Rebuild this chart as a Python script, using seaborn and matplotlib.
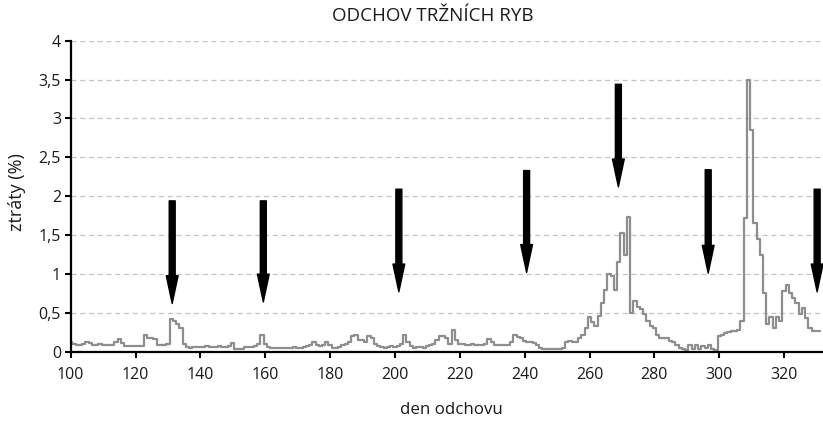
"""
plot.py
-------
Denni ztraty pri odchovu trznich ryb (%), se sipkami oznacujicimi zasahy.
Output: out.png
"""

from __future__ import annotations

import matplotlib
matplotlib.use("Agg")
import matplotlib.pyplot as plt
import numpy as np
import pandas as pd
import seaborn as sns


# ---------------------------------------------------------------------------
# Data
# ---------------------------------------------------------------------------

start_day = 100

loss_pct = [
    # 100-109
    0.12, 0.10, 0.09, 0.09, 0.10, 0.12, 0.11, 0.09, 0.09, 0.10,
    # 110-119
    0.09, 0.09, 0.08, 0.09, 0.12, 0.16, 0.11, 0.07, 0.07, 0.07,
    # 120-129
    0.07, 0.07, 0.07, 0.22, 0.18, 0.18, 0.16, 0.08, 0.08, 0.09,
    # 130-139
    0.10, 0.42, 0.39, 0.35, 0.30, 0.10, 0.06, 0.05, 0.06, 0.06,
    # 140-149
    0.06, 0.06, 0.07, 0.06, 0.06, 0.06, 0.07, 0.06, 0.06, 0.07,
    # 150-159
    0.11, 0.04, 0.04, 0.04, 0.06, 0.06, 0.06, 0.07, 0.10, 0.22,
    # 160-169
    0.10, 0.06, 0.05, 0.05, 0.05, 0.05, 0.05, 0.05, 0.05, 0.06,
    # 170-179
    0.05, 0.05, 0.06, 0.07, 0.08, 0.13, 0.08, 0.07, 0.09, 0.12,
    # 180-189
    0.08, 0.05, 0.05, 0.06, 0.08, 0.10, 0.12, 0.20, 0.22, 0.15,
    # 190-199
    0.15, 0.12, 0.20, 0.17, 0.10, 0.07, 0.06, 0.05, 0.06, 0.07,
    # 200-209
    0.06, 0.07, 0.10, 0.21, 0.12, 0.07, 0.05, 0.06, 0.06, 0.05,
    # 210-219
    0.07, 0.08, 0.10, 0.15, 0.20, 0.20, 0.18, 0.10, 0.28, 0.15,
    # 220-229
    0.10, 0.10, 0.09, 0.09, 0.10, 0.09, 0.09, 0.08, 0.10, 0.16,
    # 230-239
    0.12, 0.09, 0.08, 0.08, 0.08, 0.08, 0.12, 0.21, 0.19, 0.17,
    # 240-249
    0.14, 0.12, 0.13, 0.11, 0.08, 0.05, 0.03, 0.03, 0.03, 0.04,
    # 250-259
    0.04, 0.04, 0.05, 0.12, 0.14, 0.12, 0.13, 0.17, 0.22, 0.30,
    # 260-269
    0.45, 0.38, 0.33, 0.46, 0.62, 0.80, 1.00, 0.97, 0.80, 1.15,
    # 270-279
    1.53, 1.25, 1.73, 0.50, 0.65, 0.58, 0.55, 0.48, 0.40, 0.33,
    # 280-289
    0.30, 0.22, 0.18, 0.18, 0.18, 0.14, 0.12, 0.08, 0.05, 0.04,
    # 290-299
    0.02, 0.08, 0.04, 0.08, 0.03, 0.07, 0.05, 0.08, 0.04, 0.02,
    # 300-309
    0.20, 0.22, 0.24, 0.25, 0.26, 0.27, 0.28, 0.40, 1.72, 3.50,
    # 310-319
    2.85, 1.65, 1.45, 1.24, 0.76, 0.36, 0.45, 0.30, 0.45, 0.40,
    # 320-329
    0.78, 0.86, 0.76, 0.69, 0.63, 0.48, 0.56, 0.43, 0.30, 0.26,
    # 330-331
    0.26, 0.26,
]

# arrows: day, value at tail (top) and value at tip (bottom)
arrow_days = [131.3, 159.4, 201.2, 240.6, 268.9, 296.6, 330.2]
arrow_tail = [1.94, 1.94, 2.09, 2.33, 3.44, 2.34, 2.09]
arrow_tip = [0.62, 0.64, 0.77, 1.02, 2.12, 1.01, 0.77]

x_ticks = [100, 120, 140, 160, 180, 200, 220, 240, 260, 280, 300, 320]
y_ticks = [0, 0.5, 1, 1.5, 2, 2.5, 3, 3.5, 4]
y_tick_labels = ["0", "0,5", "1", "1,5", "2", "2,5", "3", "3,5", "4"]

title = "ODCHOV TRŽNÍCH RYB"
x_label = "den odchovu"
y_label = "ztráty (%)"


# ---------------------------------------------------------------------------
# Plot
# ---------------------------------------------------------------------------

sns.set_theme(style="white")
plt.rcParams["font.family"] = ["Open Sans", "DejaVu Sans"]

df = pd.DataFrame({
    "den": np.arange(start_day, start_day + len(loss_pct)),
    "ztraty": loss_pct,
})

fig = plt.figure(figsize=(8.23, 4.21), dpi=100)
ax = fig.add_axes([0.0859, 0.1646, 0.9129, 0.7387])

# dashed horizontal grid
for yv in y_ticks[1:]:
    ax.axhline(yv, color="#c4c4c4", lw=0.9, ls=(0, (4, 3)), zorder=0)

sns.lineplot(
    data=df, x="den", y="ztraty", ax=ax,
    color="#8e8e8e", lw=1.6, drawstyle="steps-mid", zorder=2,
)

for d, top, tip in zip(arrow_days, arrow_tail, arrow_tip):
    ax.annotate(
        "", xy=(d, tip), xytext=(d, top),
        arrowprops=dict(
            arrowstyle="simple,head_length=2.0,head_width=0.85,tail_width=0.43",
            mutation_scale=10, color="black", shrinkA=0, shrinkB=0,
        ),
        zorder=3,
    )

ax.set_xlim(100, 331.7)
ax.set_ylim(0, 4)
ax.set_xticks(x_ticks)
ax.set_yticks(y_ticks)
ax.set_yticklabels(y_tick_labels)
ax.set_xlabel("")
ax.set_ylabel("")

for side in ["top", "right"]:
    ax.spines[side].set_visible(False)
for side in ["left", "bottom"]:
    ax.spines[side].set_color("black")
    ax.spines[side].set_linewidth(1.6)

ax.tick_params(axis="both", direction="out", length=4, width=1.5,
               color="black", labelsize=11.5, labelcolor="#1a1a1a", pad=3,
               left=True, bottom=True)
ax.tick_params(axis="x", pad=7)

fig.text(0.526, 0.962, title, ha="center", va="center", fontsize=13.5, color="#1a1a1a")
fig.text(0.548, 0.026, x_label, ha="center", va="center", fontsize=12.2, color="#1a1a1a")
fig.text(0.021, 0.543, y_label, ha="center", va="center", rotation=90,
         fontsize=13, color="#1a1a1a")

fig.savefig("out.png", dpi=100)
